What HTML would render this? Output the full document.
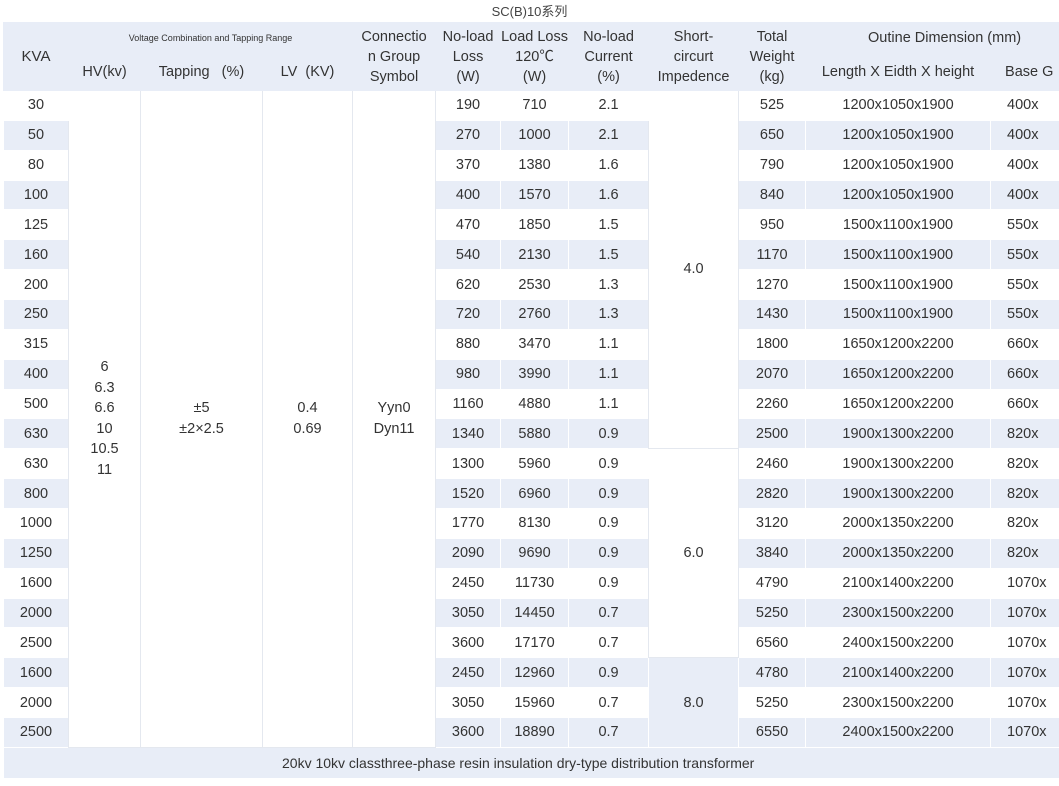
<!DOCTYPE html>
<html><head><meta charset="utf-8"><style>
body{margin:0;width:1059px;height:786px;overflow:hidden;background:#fff;font-family:"Liberation Sans","Noto Sans CJK SC",sans-serif;color:#333;}
.title{position:absolute;top:1px;left:0;width:1059px;text-align:center;font-size:13px;color:#444;}
table{position:absolute;top:22px;left:3px;border-collapse:collapse;table-layout:fixed;width:1120px;font-size:14.5px;}
td{text-align:center;vertical-align:middle;padding:0;border:1px solid #fff;white-space:nowrap;overflow:hidden;}
thead td{background:#e8edf7;line-height:20px;border-color:#e8edf7;}
tbody tr{height:29.86px;}
tbody tr:nth-child(even) td{background:#e8edf7;}
tbody td.m{background:#fff !important;border:1px solid #e4e8ef;line-height:20.5px;}
tbody td.b{background:#e8edf7 !important;border:1px solid #fff;}
td.g{text-align:left;padding-left:16px;}
.foot td{background:#e8edf7 !important;height:30px;font-size:14px;border-top:1px solid #d8dde6;}
</style></head><body>
<div class="title">SC(B)10系列</div>
<table>
<colgroup><col style="width:65px"><col style="width:72px"><col style="width:122px"><col style="width:90px"><col style="width:83px"><col style="width:65px"><col style="width:68px"><col style="width:80px"><col style="width:90px"><col style="width:67px"><col style="width:185px"><col style="width:133px"></colgroup>
<thead>
<tr style="height:30px"><td rowspan="2" style="font-size:15px">KVA</td><td colspan="3" style="font-size:9px">Voltage Combination and Tapping Range</td><td rowspan="2">Connectio<br>n Group<br>Symbol</td><td rowspan="2">No-load<br>Loss<br>(W)</td><td rowspan="2">Load Loss<br>120℃<br>(W)</td><td rowspan="2">No-load<br>Current<br>(%)</td><td rowspan="2">Short-<br>circurt<br>Impedence</td><td rowspan="2">Total<br>Weight<br>(kg)</td><td colspan="2" style="text-align:left;padding-left:62px">Outine Dimension (mm)</td></tr>
<tr style="height:38px"><td>HV(kv)</td><td>Tapping&nbsp;&nbsp;&nbsp;(%)</td><td>LV&nbsp;&nbsp;(KV)</td><td>Length X Eidth X height</td><td style="text-align:left;padding-left:14px">Base G</td></tr>
</thead>
<tbody>
<tr><td>30</td><td class="m" rowspan="22">6<br>6.3<br>6.6<br>10<br>10.5<br>11</td><td class="m" rowspan="22">±5<br>±2×2.5</td><td class="m" rowspan="22">0.4<br>0.69</td><td class="m" rowspan="22">Yyn0<br>Dyn11</td><td>190</td><td>710</td><td>2.1</td><td class="m" rowspan="12">4.0</td><td>525</td><td>1200x1050x1900</td><td class="g">400x</td></tr>
<tr><td>50</td><td>270</td><td>1000</td><td>2.1</td><td>650</td><td>1200x1050x1900</td><td class="g">400x</td></tr>
<tr><td>80</td><td>370</td><td>1380</td><td>1.6</td><td>790</td><td>1200x1050x1900</td><td class="g">400x</td></tr>
<tr><td>100</td><td>400</td><td>1570</td><td>1.6</td><td>840</td><td>1200x1050x1900</td><td class="g">400x</td></tr>
<tr><td>125</td><td>470</td><td>1850</td><td>1.5</td><td>950</td><td>1500x1100x1900</td><td class="g">550x</td></tr>
<tr><td>160</td><td>540</td><td>2130</td><td>1.5</td><td>1170</td><td>1500x1100x1900</td><td class="g">550x</td></tr>
<tr><td>200</td><td>620</td><td>2530</td><td>1.3</td><td>1270</td><td>1500x1100x1900</td><td class="g">550x</td></tr>
<tr><td>250</td><td>720</td><td>2760</td><td>1.3</td><td>1430</td><td>1500x1100x1900</td><td class="g">550x</td></tr>
<tr><td>315</td><td>880</td><td>3470</td><td>1.1</td><td>1800</td><td>1650x1200x2200</td><td class="g">660x</td></tr>
<tr><td>400</td><td>980</td><td>3990</td><td>1.1</td><td>2070</td><td>1650x1200x2200</td><td class="g">660x</td></tr>
<tr><td>500</td><td>1160</td><td>4880</td><td>1.1</td><td>2260</td><td>1650x1200x2200</td><td class="g">660x</td></tr>
<tr><td>630</td><td>1340</td><td>5880</td><td>0.9</td><td>2500</td><td>1900x1300x2200</td><td class="g">820x</td></tr>
<tr><td>630</td><td>1300</td><td>5960</td><td>0.9</td><td class="m" rowspan="7">6.0</td><td>2460</td><td>1900x1300x2200</td><td class="g">820x</td></tr>
<tr><td>800</td><td>1520</td><td>6960</td><td>0.9</td><td>2820</td><td>1900x1300x2200</td><td class="g">820x</td></tr>
<tr><td>1000</td><td>1770</td><td>8130</td><td>0.9</td><td>3120</td><td>2000x1350x2200</td><td class="g">820x</td></tr>
<tr><td>1250</td><td>2090</td><td>9690</td><td>0.9</td><td>3840</td><td>2000x1350x2200</td><td class="g">820x</td></tr>
<tr><td>1600</td><td>2450</td><td>11730</td><td>0.9</td><td>4790</td><td>2100x1400x2200</td><td class="g">1070x</td></tr>
<tr><td>2000</td><td>3050</td><td>14450</td><td>0.7</td><td>5250</td><td>2300x1500x2200</td><td class="g">1070x</td></tr>
<tr><td>2500</td><td>3600</td><td>17170</td><td>0.7</td><td>6560</td><td>2400x1500x2200</td><td class="g">1070x</td></tr>
<tr><td>1600</td><td>2450</td><td>12960</td><td>0.9</td><td class="b" rowspan="3">8.0</td><td>4780</td><td>2100x1400x2200</td><td class="g">1070x</td></tr>
<tr><td>2000</td><td>3050</td><td>15960</td><td>0.7</td><td>5250</td><td>2300x1500x2200</td><td class="g">1070x</td></tr>
<tr><td>2500</td><td>3600</td><td>18890</td><td>0.7</td><td>6550</td><td>2400x1500x2200</td><td class="g">1070x</td></tr>
<tr class="foot"><td colspan="12" style="text-align:left;padding-left:278px">20kv 10kv classthree-phase resin insulation dry-type distribution transformer</td></tr>
</tbody>
</table>
</body></html>
